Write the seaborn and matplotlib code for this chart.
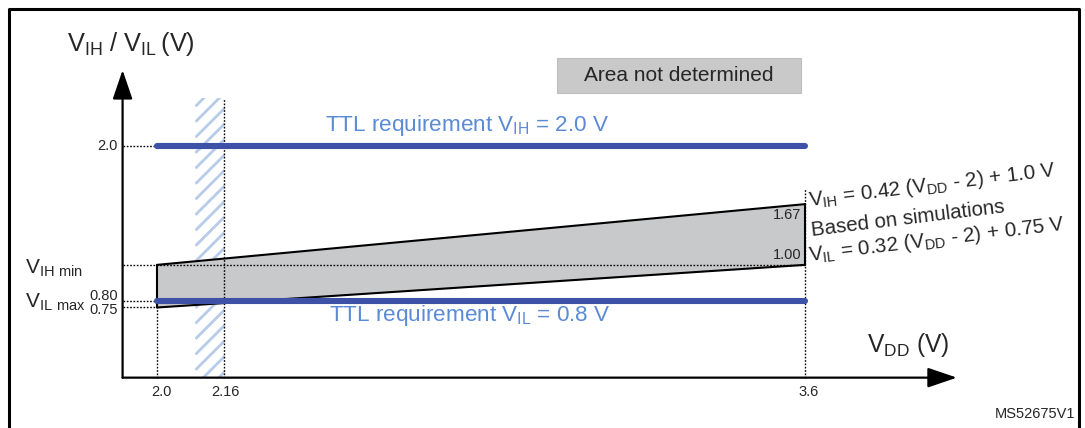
import matplotlib.pyplot as plt
import matplotlib.transforms as mtransforms
from matplotlib.patches import Rectangle
import seaborn as sns
import pandas as pd
import numpy as np

# values (schematic, not to scale)
vdd = [2.0, 3.6]
vih_edge = [1.08, 1.55]      # upper edge of the grey band
vil_edge = [0.75, 1.08]      # lower edge of the grey band
ttl_vih = [2.0, 2.0]
ttl_vil = [0.8, 0.8]
vih_min = 1.08
vdd_min_ext = 2.16
hatch_span = [2.095, 2.167]
hatch_top = 2.37
vdd_max_top = 1.675
x_tick_vals = [2.0, 2.16, 3.6]
x_tick_labels = ["2.0", "2.16", "3.6"]

sns.set_theme(style="white")
plt.rcParams['font.family'] = ['Liberation Sans', 'DejaVu Sans']
plt.rcParams['mathtext.default'] = 'regular'

W, H = 1085, 428
fig = plt.figure(figsize=(W / 100, H / 100), dpi=100)
ax = fig.add_axes([0, 0, 1, 1])
ax.set_axis_off()
ax.set_xlim(1.6123, 4.2914)
ax.set_ylim(-0.1827, 3.130)

# pixel coordinates for the free text
pix = mtransforms.Affine2D().scale(1 / W, -1 / H).translate(0, 1) + fig.transFigure

blue = "#3d52a6"
ttl_col = "#5b8ad6"
band_col = "#c8c9cb"
hatch_col = "#b9cbea"

x0, y0 = 1.915, 0.207     # axis origin
x_tip, y_tip = 3.975, 2.588

# frame
ax.plot([8.5, 8.5, 1078.5, 1078.5], [440, 9.5, 9.5, 440], transform=pix,
        color="black", lw=2.2, clip_on=False)

# hatched "area not determined" strip (diagonal lines clipped to the strip)
strip = Rectangle((hatch_span[0], y0), hatch_span[1] - hatch_span[0], hatch_top - y0,
                  facecolor="none", edgecolor="none")
ax.add_patch(strip)
dx = hatch_span[1] - hatch_span[0]
step = 0.12
for yb in np.arange(y0 - 0.3, hatch_top + 0.3, step):
    ln, = ax.plot([hatch_span[0], hatch_span[1]], [yb, yb + dx * 405 / 129.2],
                  color=hatch_col, lw=2.0, zorder=1, solid_capstyle="butt")
    ln.set_clip_path(strip)

# grey band between the two simulated thresholds
ax.fill_between(vdd, vil_edge, vih_edge, color=band_col, lw=0, zorder=2)
band = pd.DataFrame({"vdd": vdd * 2, "v": vih_edge + vil_edge,
                     "edge": ["VIH"] * 2 + ["VIL"] * 2})
sns.lineplot(data=band, x="vdd", y="v", units="edge", estimator=None,
             color="black", lw=1.5, ax=ax, zorder=4, legend=False)
ax.plot([vdd[0], vdd[0]], [vil_edge[0], vih_edge[0]], color="black", lw=1.5, zorder=4)
ax.plot([vdd[1], vdd[1]], [vil_edge[1], vih_edge[1]], color="black", lw=1.5, zorder=4)

# dotted guide lines
dot = dict(color="black", lw=1.0, ls=(0, (1.2, 1.2)), zorder=3)
ax.plot([x0, vdd[0]], [ttl_vih[0], ttl_vih[0]], **dot)
ax.plot([x0, vdd[1]], [vih_min, vih_min], **dot)
ax.plot([x0, vdd[0]], [ttl_vil[0], ttl_vil[0]], **dot)
ax.plot([x0, vdd[0]], [vil_edge[0], vil_edge[0]], **dot)
ax.plot([vdd[0], vdd[0]], [y0, vil_edge[0]], **dot)
ax.plot([vdd_min_ext + 0.006, vdd_min_ext + 0.006], [y0, hatch_top], **dot)
ax.plot([vdd[1], vdd[1]], [y0, vdd_max_top], **dot)

# TTL requirement lines
sns.lineplot(x=vdd, y=ttl_vih, color=blue, lw=4.4, ax=ax, zorder=5)
sns.lineplot(x=vdd, y=ttl_vil, color=blue, lw=4.4, ax=ax, zorder=5)

# axes with arrows
arrow = dict(arrowstyle="-|>,head_length=1.0,head_width=0.34", mutation_scale=18,
             color="black", lw=1.6, shrinkA=0, shrinkB=0)
ax.annotate("", xy=(x0, y_tip), xytext=(x0, y0), arrowprops=arrow, zorder=6)
ax.annotate("", xy=(x_tip, y0), xytext=(x0, y0), arrowprops=arrow, zorder=6)

# tick labels
for v, lab in zip(x_tick_vals, x_tick_labels):
    ax.text(v + 0.01, y0 - 0.06, lab, ha="center", va="top", fontsize=10.5)
ax.text(118, 146, "2.0", transform=pix, ha="right", va="center", fontsize=10.5)
ax.text(118, 296, "0.80", transform=pix, ha="right", va="center", fontsize=10.5)
ax.text(118, 310, "0.75", transform=pix, ha="right", va="center", fontsize=10.5)
ax.text(25, 268, "$V_{IH\\ min}$", transform=pix, ha="left", va="center", fontsize=15)
ax.text(25, 302, "$V_{IL\\ max}$", transform=pix, ha="left", va="center", fontsize=15)

# axis titles
ax.text(67, 44, "$V_{IH}$ / $V_{IL}\\,$(V)", transform=pix, ha="left", va="center",
        fontsize=18.3)
ax.text(867, 345, "$V_{DD}$ (V)", transform=pix, ha="left", va="center", fontsize=17.7)

# legend box
ax.add_patch(Rectangle((557, 58), 244, 35, transform=pix, facecolor="#c9c9c9",
                       edgecolor="#bdbdbd", lw=0.8, zorder=6))
ax.text(679, 75.5, "Area not determined", transform=pix, ha="center", va="center",
        fontsize=15, zorder=7)

# TTL captions
ax.text(467, 125, "TTL requirement $V_{IH}$ = 2.0 V", transform=pix, ha="center",
        va="center", fontsize=16.2, color=ttl_col)
ax.text(470, 316, "TTL requirement $V_{IL}$ = 0.8 V", transform=pix, ha="center",
        va="center", fontsize=16.2, color=ttl_col)

# band end values
ax.text(801, 215, "1.67", transform=pix, ha="right", va="center", fontsize=10.5)
ax.text(801, 255, "1.00", transform=pix, ha="right", va="center", fontsize=10.5)

# formulas on the right
rot = dict(transform=pix, ha="left", va="baseline", rotation=7, rotation_mode="anchor",
           fontsize=14.8)
ax.text(809, 206, "$V_{IH}$ = 0.42 ($V_{DD}$ - 2) + 1.0 V", **rot)
ax.text(812, 236, "Based on simulations", **rot)
ax.text(809, 261, "$V_{IL}$ = 0.32 ($V_{DD}$ - 2) + 0.75 V", **rot)

ax.text(1075, 414, "MS52675V1", transform=pix, ha="right", va="center", fontsize=10.5)

fig.savefig("out.png", dpi=100)
